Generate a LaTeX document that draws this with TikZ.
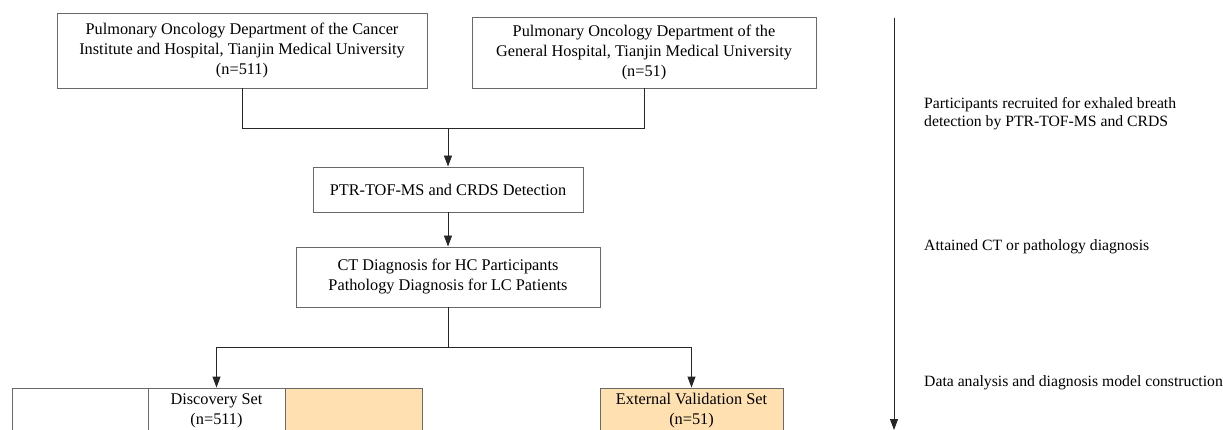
\documentclass[tikz,border=0pt]{standalone}
\usepackage{fontspec}
\setmainfont{Liberation Serif}
\usetikzlibrary{arrows.meta, positioning}
\definecolor{setfill}{RGB}{255,224,176}
\definecolor{boxline}{RGB}{105,105,105}

\begin{document}
\begin{tikzpicture}[x=1pt, y=-1pt,
    box/.style={draw=boxline, line width=0.9pt, align=center, inner sep=0pt,
      font=\fontsize{16.3}{20}\selectfont},
    note/.style={anchor=west, align=left, inner sep=0pt,
      font=\fontsize{15.7}{18}\selectfont},
    arr/.style={-{Triangle[width=8pt,length=11pt]}, line width=0.9pt, draw=black!85}]
  \clip (0,0) rectangle (1223,430);
  \fill[white] (0,0) rectangle (1223,430);
  % recruiting sites
  \node[box, minimum width=370, minimum height=75] (cancer) at (242,50.5)
    {Pulmonary Oncology Department of the Cancer\\Institute and Hospital, Tianjin Medical University\\(n=511)};
  \node[box, minimum width=344, minimum height=71] (general) at (644,52.5)
    {Pulmonary Oncology Department of the\\General Hospital, Tianjin Medical University\\(n=51)};
  \coordinate (merge) at (448,128);
  \draw[line width=0.9pt, draw=black!85] (cancer.south) |- (merge);
  \draw[line width=0.9pt, draw=black!85] (general.south) |- (merge);
  % detection and diagnosis
  \node[box, minimum width=270, minimum height=45] (detect) at (448,189.5)
    {PTR-TOF-MS and CRDS Detection};
  \node[box, minimum width=304, minimum height=60] (diag) at (448,277)
    {CT Diagnosis for HC Participants\\Pathology Diagnosis for LC Patients};
  \draw[arr] (merge) -- (detect);
  \draw[arr] (detect) -- (diag);
  % data sets
  \node[box, minimum width=136, minimum height=46] (left) at (80,411) {};
  \node[box, minimum width=137, minimum height=46] (disc) at (216.5,411)
    {Discovery Set\\(n=511)};
  \node[box, fill=setfill, minimum width=137, minimum height=46] (right) at (353.5,411) {};
  \node[box, fill=setfill, minimum width=183, minimum height=46] (ext) at (691.5,411)
    {External Validation Set\\(n=51)};
  \coordinate (split) at (448,347);
  \draw[line width=0.9pt, draw=black!85] (diag.south) -- (split);
  \draw[arr] (split) -| (disc.north);
  \draw[arr] (split) -| (ext.north);
  % stages
  \coordinate (start) at (894,18);
  \coordinate (stop) at (894,430);
  \draw[arr] (start) -- (stop);
  \node[note] (recruit) at (924,114)
    {Participants recruited for exhaled breath\\detection by PTR-TOF-MS and CRDS};
  \node[note] (attain) at (924,247) {Attained CT or pathology diagnosis};
  \node[note] (analyse) at (924,383) {Data analysis and diagnosis model construction};
\end{tikzpicture}
\end{document}
